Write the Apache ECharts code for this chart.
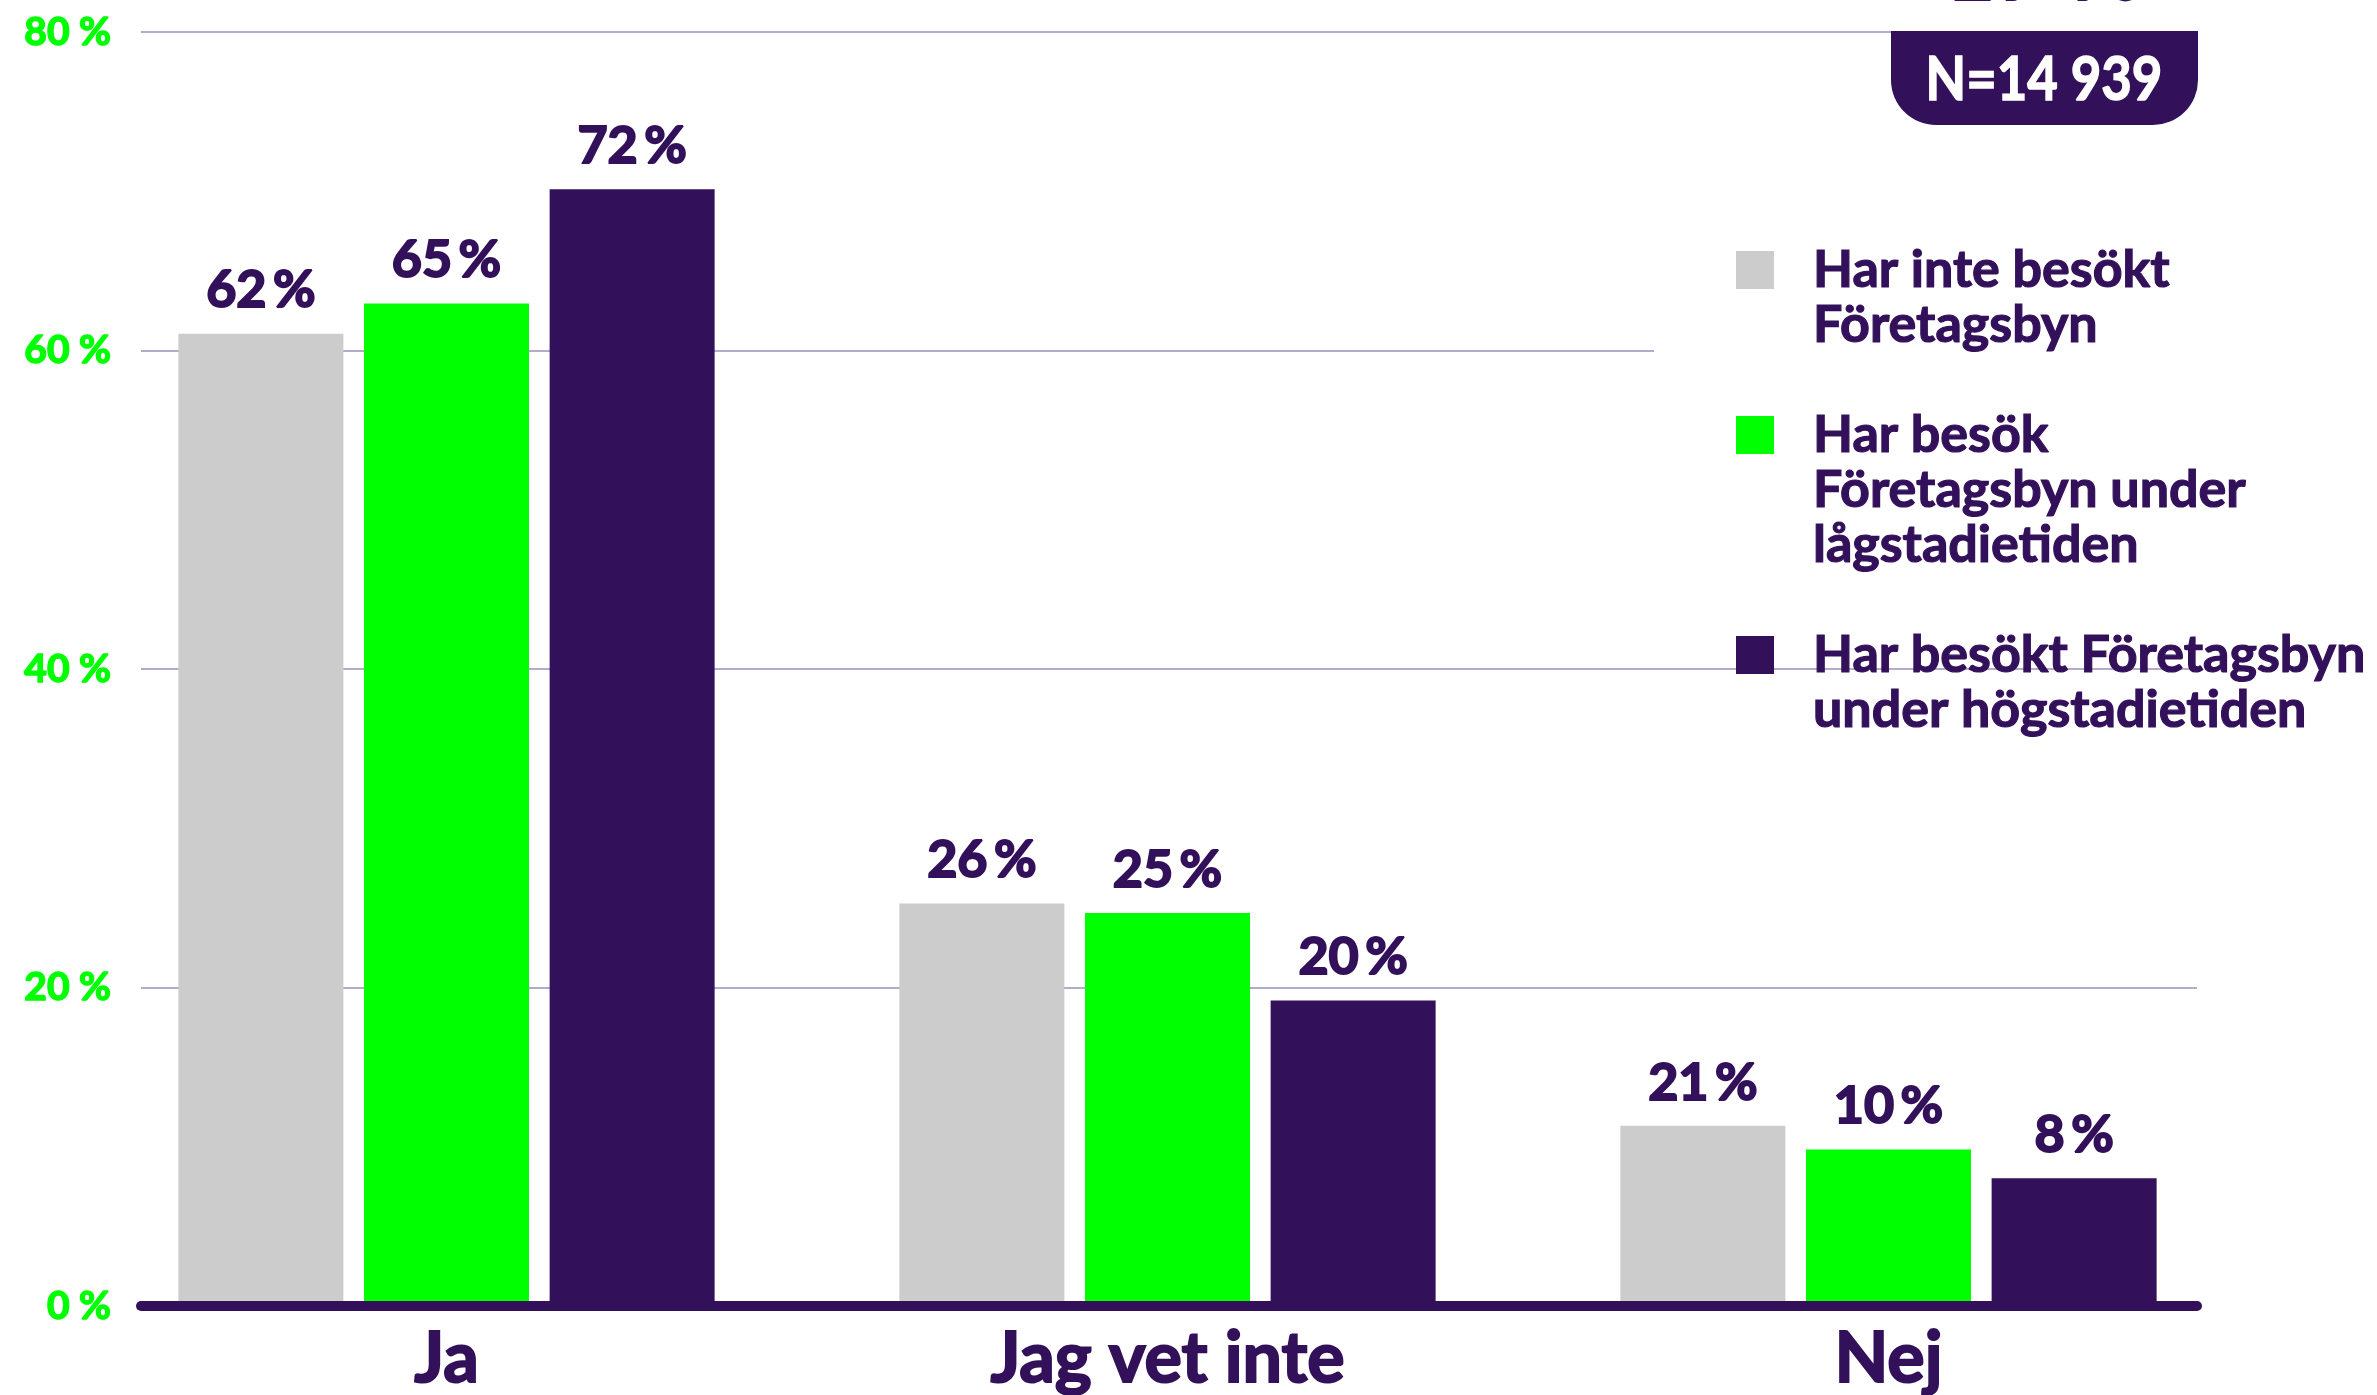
<!DOCTYPE html>
<html>
<head>
<meta charset="utf-8">
<script src="https://cdn.jsdelivr.net/npm/echarts@6/dist/echarts.min.js"></script>
<style>
  html, body { margin: 0; padding: 0; background: #fff; }
  #chart { width: 2377px; height: 1395px; }
</style>
</head>
<body>
<div id="chart"></div>
<script>
// data (bar heights) and the printed labels
const categories = ['Ja', 'Jag vet inte', 'Nej'];
const seriesNames = [
  'Har inte besökt\nFöretagsbyn',
  'Har besök\nFöretagsbyn under\nlågstadietiden',
  'Har besökt Företagsbyn\nunder högstadietiden'
];
const notVisited = [61.0, 25.1, 11.1];
const visitedLow = [62.9, 24.5, 9.6];
const visitedHigh = [70.1, 19.0, 7.8];
const notVisitedLabels = ['62\u2009%', '26\u2009%', '21\u2009%'];
const visitedLowLabels = ['65\u2009%', '25\u2009%', '10\u2009%'];
const visitedHighLabels = ['72\u2009%', '20\u2009%', '8\u2009%'];
const yMin = 0, yMax = 80, yStep = 20;
const sampleText = 'N=14 939';
const topText = '17 %';

const colors = ['#cccccc', '#00ff00', '#32105a'];
const purple = '#32105a';
const font = 'Lato';

const dom = echarts.init(document.getElementById('chart'));

const values = [notVisited, visitedLow, visitedHigh];
const labels = [notVisitedLabels, visitedLowLabels, visitedHighLabels];

// legend drawn by hand so the square sits on the first line
const legendTop = [270, 435, 655];
const lineH = 55;
const legendGraphics = [];
seriesNames.forEach((name, i) => {
  legendGraphics.push({
    type: 'rect', z: 11,
    shape: { x: 1736, y: legendTop[i] - 19, width: 38, height: 38 },
    style: { fill: colors[i] }
  });
  legendGraphics.push({
    type: 'text', z: 11, x: 1813, y: legendTop[i] - lineH / 2,
    style: {
      text: name, fill: purple, font: 'bold 52px ' + font,
      stroke: purple, lineWidth: 1.2,
      lineHeight: lineH, verticalAlign: 'top', align: 'left'
    }
  });
});

const option = {
  backgroundColor: '#fff',
  animation: false,
  grid: [
    { left: 86, right: 128, top: 32, bottom: 89 },
    { left: 141, right: 180, top: 32, bottom: 89 }
  ],
  xAxis: [
    {
      gridIndex: 0, type: 'category', data: categories,
      axisLine: { show: false }, axisTick: { show: false },
      axisLabel: {
        color: purple, fontFamily: font, fontWeight: 'bold', fontSize: 70, margin: 22,
        textBorderColor: purple, textBorderWidth: 2
      }
    },
    {
      gridIndex: 1, type: 'value', min: 0, max: 1, z: 5,
      axisLine: { show: true, lineStyle: { color: purple, width: 10 } },
      axisTick: { show: false }, axisLabel: { show: false }, splitLine: { show: false }
    }
  ],
  yAxis: [
    { gridIndex: 0, type: 'value', min: yMin, max: yMax, show: false },
    {
      gridIndex: 1, type: 'value', min: yMin, max: yMax, interval: yStep,
      axisLine: { show: false }, axisTick: { show: false },
      axisLabel: {
        formatter: '{value} %', color: '#00ff00', fontFamily: font,
        fontWeight: 'bold', fontSize: 39, margin: 30,
        textBorderColor: '#00ff00', textBorderWidth: 1.5
      },
      splitLine: { lineStyle: { color: '#b3abc9', width: 2 } }
    }
  ],
  series: values.map((v, i) => ({
    name: seriesNames[i],
    type: 'bar',
    xAxisIndex: 0, yAxisIndex: 0,
    data: v,
    barWidth: 165,
    barGap: '12.5%',
    itemStyle: { color: colors[i] },
    label: {
      show: true, position: 'top', distance: 17,
      formatter: p => labels[i][p.dataIndex],
      color: purple, fontFamily: font, fontWeight: 'bold', fontSize: 52,
      textBorderColor: purple, textBorderWidth: 2
    }
  })),
  graphic: [
    // hides the 60 % gridline behind the legend
    { type: 'rect', z: 10, shape: { x: 1654, y: 340, width: 723, height: 22 }, style: { fill: '#fff' } },
    // cut-off heading at the top
    {
      type: 'text', z: 11, x: 2044, y: 17,
      style: { text: topText, fill: purple, font: 'bold 90px ' + font, align: 'center', verticalAlign: 'bottom' }
    },
    // sample size badge
    {
      type: 'rect', z: 11,
      shape: { x: 1891, y: 31, width: 307, height: 94, r: [0, 0, 45, 45] },
      style: { fill: purple }
    },
    {
      type: 'text', z: 12, x: 2044, y: 80, scaleX: 0.85,
      style: {
        text: sampleText, fill: '#fff', font: 'bold 62px ' + font,
        stroke: '#fff', lineWidth: 1.5, align: 'center', verticalAlign: 'middle'
      }
    }
  ].concat(legendGraphics)
};

dom.setOption(option);
</script>
</body>
</html>
